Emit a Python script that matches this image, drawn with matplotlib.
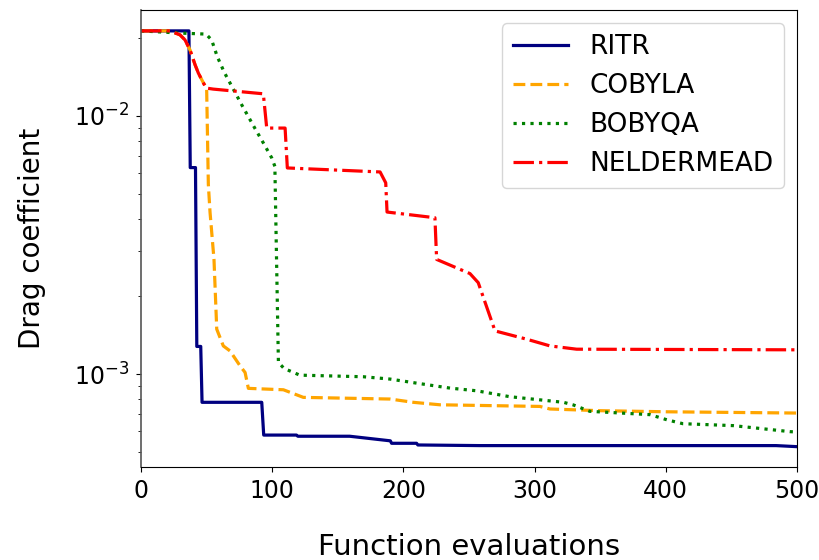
import matplotlib
matplotlib.use("Agg")
import matplotlib.pyplot as plt

# ---- data ----
ritr_x = [0, 36.5, 37.5, 41.5, 42.5, 45.5, 46.5, 92, 93.5, 118.5, 119.5, 159, 190, 191, 210, 211, 258, 484, 500]
ritr_y = [0.0213, 0.0213, 0.0063, 0.0063, 0.00128, 0.00128, 0.000778, 0.000778, 0.000581, 0.000581,
          0.000575, 0.000575, 0.000552, 0.00054, 0.00054, 0.000532, 0.000529, 0.000529, 0.000524]

cobyla_x = [0, 22, 29.7, 33.5, 37.3, 41.2, 43.7, 47, 50, 51.3, 52.6, 55.6, 57.7, 62.7, 67.8, 75.5, 79.3,
            81.8, 108.5, 123.7, 189.8, 207.5, 227.8, 304, 311.7, 350, 400.7, 500]
cobyla_y = [0.0213, 0.0213, 0.02056, 0.01965, 0.01799, 0.01574, 0.01462, 0.01356, 0.0128, 0.005416,
            0.004222, 0.00278, 0.001493, 0.001286, 0.00123, 0.001076, 0.001015, 0.000881, 0.00087,
            0.000813, 0.000801, 0.000778, 0.000761, 0.00075, 0.000733, 0.000722, 0.000715, 0.000707]

bobyqa_x = [0, 29, 49.5, 53.8, 58.1, 63.5, 69.9, 76.7, 86.4, 93.2, 99.6, 102, 104.7, 109, 121, 169.5,
            189.8, 210, 235.5, 255.9, 281, 322, 329.5, 342, 388, 400.7, 413, 451.5, 494.7, 500]
bobyqa_y = [0.0213, 0.0209, 0.0207, 0.01965, 0.01694, 0.0147, 0.0128, 0.01103, 0.00901, 0.00785,
            0.00687, 0.00637, 0.00111, 0.001052, 0.000991, 0.000977, 0.000957, 0.000923, 0.000883,
            0.000862, 0.000818, 0.000778, 0.00076, 0.000718, 0.000697, 0.000666, 0.000643, 0.000632,
            0.000599, 0.000597]

nelder_x = [0, 22, 29.7, 33.5, 37.3, 41.2, 43.7, 47, 49.5, 55, 93.2, 95.8, 109.8, 111.5, 182.2, 186.5,
            187.5, 224, 225.3, 250.7, 257, 269.8, 294, 311.7, 332, 500]
nelder_y = [0.0213, 0.0213, 0.02056, 0.01965, 0.01799, 0.01574, 0.01462, 0.01356, 0.0128, 0.01268,
            0.01216, 0.00896, 0.00896, 0.00628, 0.00606, 0.0055, 0.00424, 0.00403, 0.00278, 0.00245,
            0.00226, 0.00147, 0.001365, 0.001286, 0.001249, 0.001242]

labels = ["RITR", "COBYLA", "BOBYQA", "NELDERMEAD"]
xlabel = "Function evaluations"
ylabel = "Drag coefficient"

fig = plt.figure(figsize=(8.2, 5.6), dpi=100)
ax = fig.add_axes([0.172, 0.166, 0.8, 0.816])

lw = 2.3
ax.plot(ritr_x, ritr_y, color="navy", linestyle="-", linewidth=lw, label=labels[0])
ax.plot(cobyla_x, cobyla_y, color="orange", linestyle="--", linewidth=lw, label=labels[1])
ax.plot(bobyqa_x, bobyqa_y, color="green", linestyle=":", linewidth=lw, label=labels[2])
ax.plot(nelder_x, nelder_y, color="red", linestyle="-.", linewidth=lw, label=labels[3])

ax.set_yscale("log")
ax.set_xlim(0, 500)
ax.set_ylim(0.000437, 0.02564)
ax.spines["left"].set_color("#555555")
ax.spines["left"].set_linewidth(1.2)
ax.tick_params(axis="both", which="major", labelsize=17, pad=5)
ax.set_xlabel(xlabel, fontsize=21, labelpad=22)
ax.set_ylabel(ylabel, fontsize=20, labelpad=20)
ax.legend(loc="upper right", fontsize=19, handlelength=2.1)

fig.savefig("out.png", dpi=100)
